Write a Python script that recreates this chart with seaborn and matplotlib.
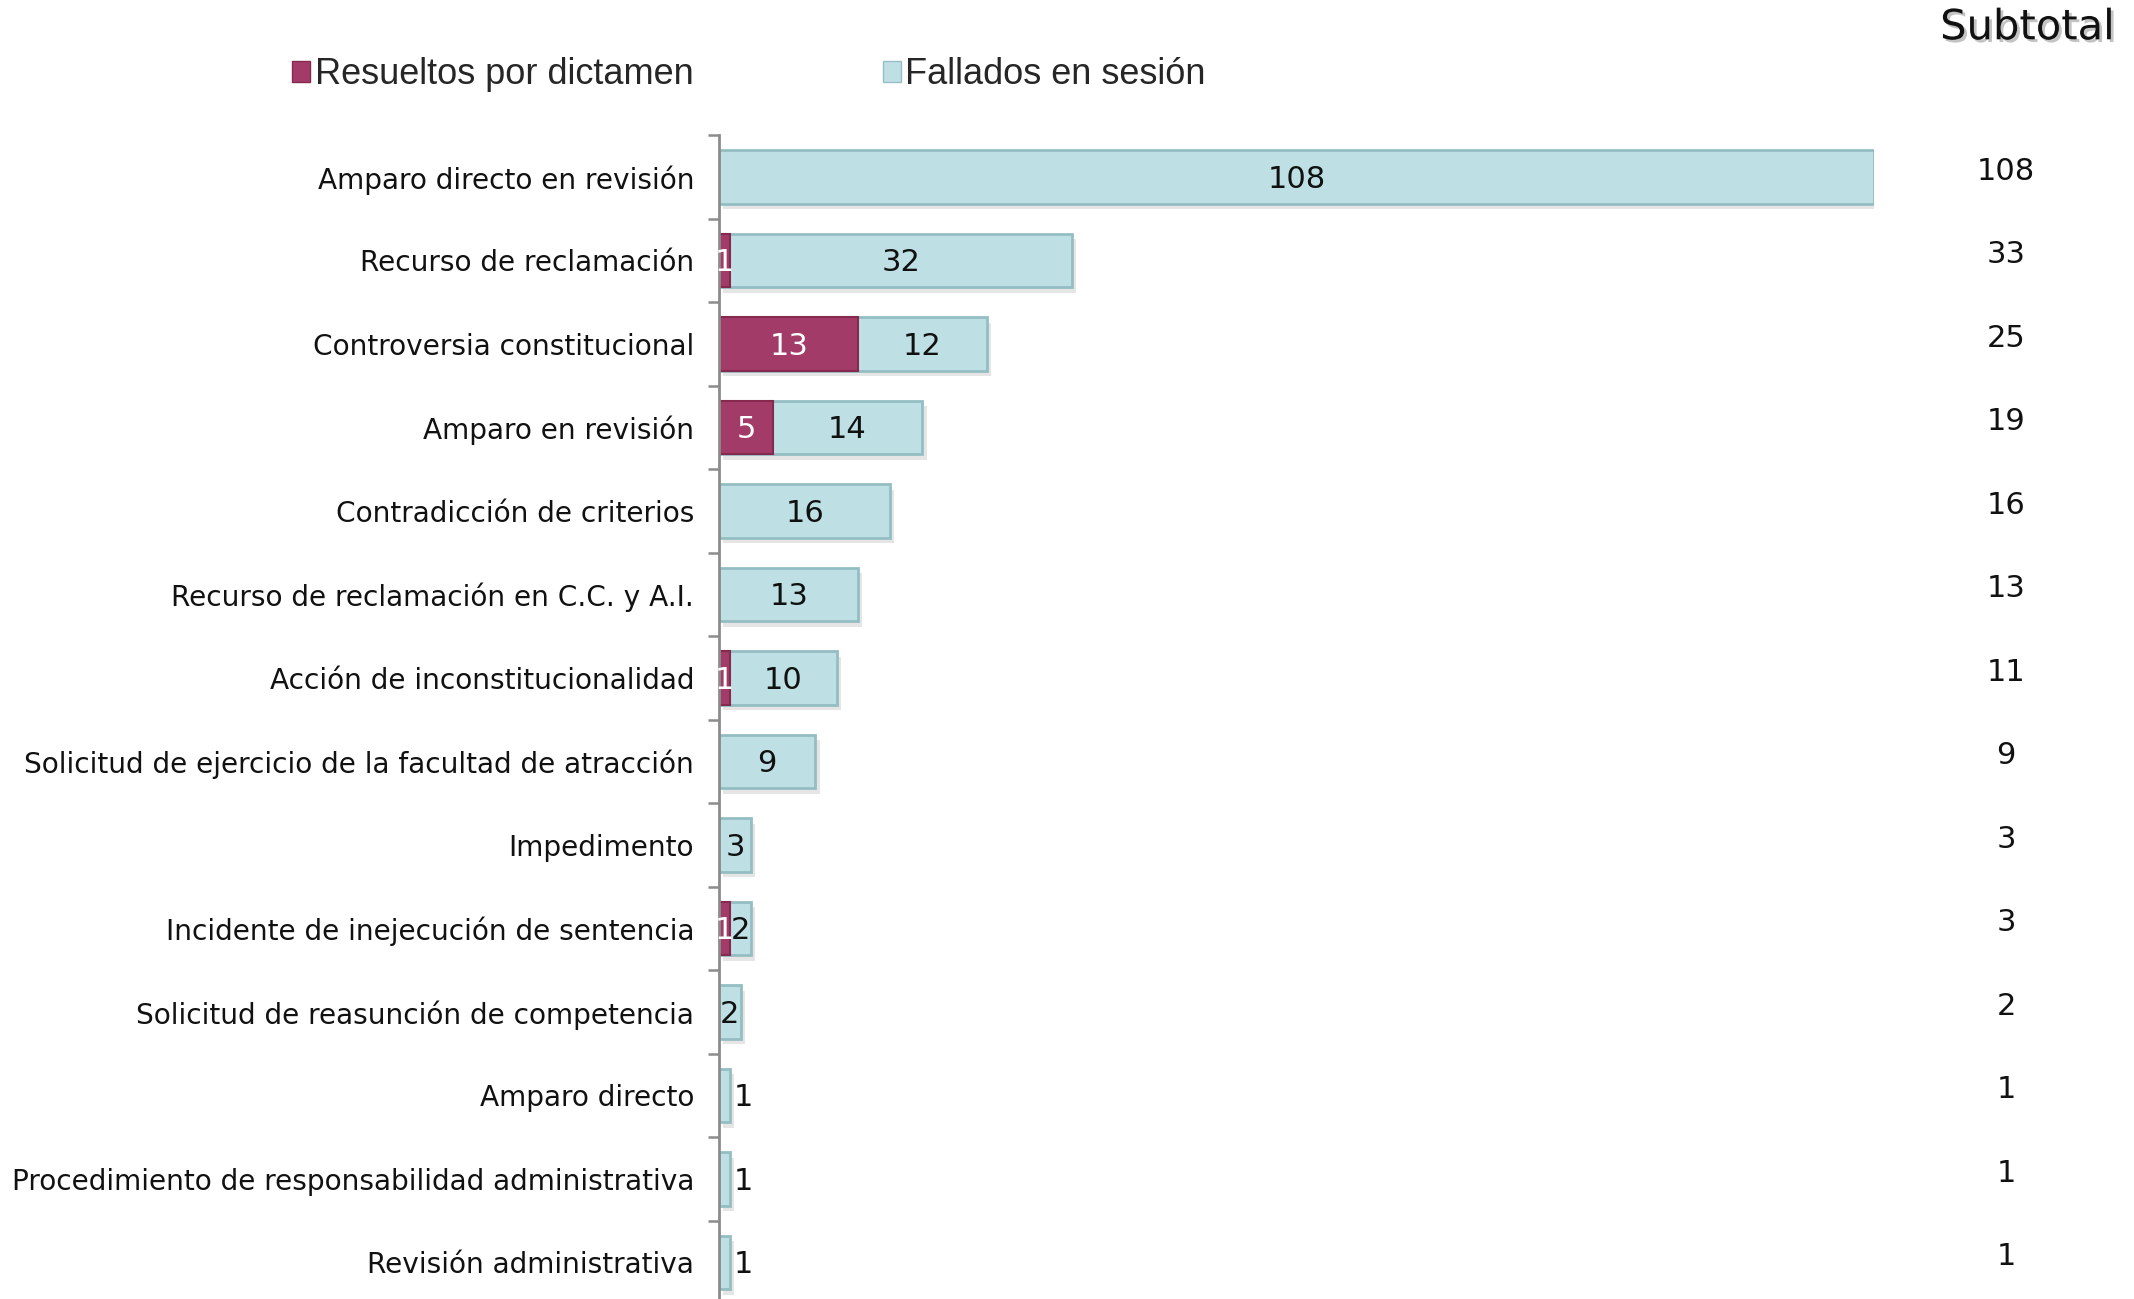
import matplotlib
matplotlib.use("Agg")
import matplotlib.pyplot as plt
import matplotlib.patheffects as pe
import matplotlib.transforms as mtransforms
from matplotlib.patches import Patch
import seaborn as sns
import pandas as pd

categorias = [
    "Amparo directo en revisión",
    "Recurso de reclamación",
    "Controversia constitucional",
    "Amparo en revisión",
    "Contradicción de criterios",
    "Recurso de reclamación en C.C. y A.I.",
    "Acción de inconstitucionalidad",
    "Solicitud de ejercicio de la facultad de atracción",
    "Impedimento",
    "Incidente de inejecución de sentencia",
    "Solicitud de reasunción de competencia",
    "Amparo directo",
    "Procedimiento de responsabilidad administrativa",
    "Revisión administrativa",
]
resueltos_dictamen = [0, 1, 13, 5, 0, 0, 1, 0, 0, 1, 0, 0, 0, 0]
fallados_sesion = [108, 32, 12, 14, 16, 13, 10, 9, 3, 2, 2, 1, 1, 1]
subtotal = [108, 33, 25, 19, 16, 13, 11, 9, 3, 3, 2, 1, 1, 1]
leyendas = ["Resueltos por dictamen", "Fallados en sesión"]

PINK = "#A33B68"
PINK_EDGE = "#86294F"
BLUE = "#BEE0E4"
BLUE_EDGE = "#94BEC3"

df = pd.DataFrame({
    "cat": categorias,
    "dictamen": resueltos_dictamen,
    "sesion": fallados_sesion,
    "subtotal": subtotal,
})

sns.set_theme(style="white")
plt.rcParams["font.family"] = ["DejaVu Sans"]

fig = plt.figure(figsize=(21.34, 12.99), dpi=100)
ax = fig.add_axes([0.337, -0.004, 0.5412, 0.9])

shadow = [pe.withSimplePatchShadow(offset=(3, -4), shadow_rgbFace="#999999", alpha=0.25)]

sns.barplot(data=df, y="cat", x="subtotal", color=BLUE, saturation=1, orient="h",
            width=0.64, edgecolor=BLUE_EDGE, linewidth=2, ax=ax)
n_blue = len(ax.patches)
sns.barplot(data=df, y="cat", x="dictamen", color=PINK, saturation=1, orient="h",
            width=0.64, edgecolor=PINK_EDGE, linewidth=1.5, ax=ax)
for p in ax.patches[:n_blue]:
    p.set_path_effects(shadow)

ax.set_xlim(0, 108)
ax.set_ylim(13.5, -0.5)
ax.set_xlabel("")
ax.set_ylabel("")
ax.set_xticks([])
for s in ["top", "right", "bottom"]:
    ax.spines[s].set_visible(False)
ax.spines["left"].set_color("#8c8c8c")
ax.spines["left"].set_linewidth(2)
ax.tick_params(axis="y", which="major", length=0, pad=18, labelsize=20.2, labelcolor="#111111")
ax.set_yticks([i + 0.5 for i in range(-1, len(categorias))], minor=True)
ax.tick_params(axis="y", which="minor", length=8, width=1.8, color="#8c8c8c", left=True)

# value labels
for i, (d, s) in enumerate(zip(resueltos_dictamen, fallados_sesion)):
    if d > 0:
        ax.text(d / 2, i + 0.03, str(d), ha="center", va="center", color="white", fontsize=22)
    if s == 1:
        ax.text(d + s + 0.35, i + 0.03, str(s), ha="left", va="center", color="#111111", fontsize=22)
    else:
        ax.text(d + s / 2, i + 0.03, str(s), ha="center", va="center", color="#111111", fontsize=22)

# subtotal column
trans = mtransforms.blended_transform_factory(fig.transFigure, ax.transData)
for i, t in enumerate(subtotal):
    ax.text(0.940, i - 0.07, str(t), transform=trans, ha="center", va="center",
            fontsize=22, color="#111111", clip_on=False)
fig.text(0.950, 0.979, "Subtotal", ha="center", va="center", fontsize=30, color="#111111",
         path_effects=[pe.withSimplePatchShadow(offset=(2, -2), shadow_rgbFace="#888888", alpha=0.5)])

handles = [Patch(facecolor=PINK, edgecolor=PINK_EDGE), Patch(facecolor=BLUE, edgecolor=BLUE_EDGE)]
fig.legend(handles, leyendas, loc="center left", bbox_to_anchor=(0.137, 0.9425), ncol=2,
           frameon=False, handlelength=0.5, handleheight=0.5, handletextpad=0.12,
           columnspacing=5.25, borderaxespad=0, borderpad=0,
           prop={"family": ["Liberation Sans", "DejaVu Sans"], "size": 26})

fig.savefig("out.png", dpi=100)
